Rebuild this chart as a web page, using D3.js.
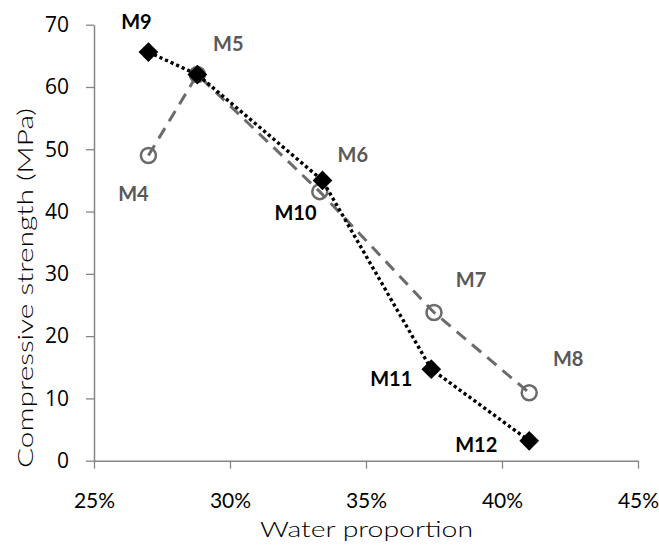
<!DOCTYPE html>
<html><head><meta charset="utf-8">
<script src="https://cdn.jsdelivr.net/npm/d3@7"></script>
<style>body{margin:0;background:#fff;} svg{display:block;}</style>
</head><body>
<svg id="chart" width="659" height="545"></svg>
<script>
// Series A (open circles, dashed grey)
const labelsA = ["M4","M5","M6","M7","M8"];
const waterA  = [0.270, 0.288, 0.333, 0.375, 0.410];
const strengthA = [49.0, 62.0, 43.2, 23.8, 10.9];
// Series B (filled diamonds, dotted black)
const labelsB = ["M9","","M10","M11","M12"];
const waterB  = [0.270, 0.288, 0.334, 0.374, 0.410];
const strengthB = [65.6, 62.0, 45.0, 14.7, 3.2];
const xTicks = [0.25, 0.30, 0.35, 0.40, 0.45];
const yTicks = [0, 10, 20, 30, 40, 50, 60, 70];

// label offsets (style, px)
const offA = [[-15,45],[31,-24],[33,-30],[37,-25],[39,-27]];
const offB = [[-12,-23],[0,0],[-27,40],[-40,17],[-53,11]];

const svg = d3.select("#chart");
const margin = {left:94, right:21, top:24.7, bottom:84.3};
const W = 659, H = 545;
const x = d3.scaleLinear().domain([0.25,0.45]).range([margin.left, W-margin.right]);
const y = d3.scaleLinear().domain([0,70]).range([H-margin.bottom, margin.top]);
const axisColor = "#868686";

// X axis
const xg = svg.append("g").attr("transform",`translate(0,${y(0)})`)
  .call(d3.axisBottom(x).tickValues(xTicks).tickFormat(d3.format(".0%")).tickSizeInner(8).tickSizeOuter(0).tickPadding(24));
xg.select(".domain").attr("stroke",axisColor).attr("stroke-width",1.5);
xg.selectAll(".tick line").attr("stroke",axisColor).attr("stroke-width",1.3);
xg.selectAll(".tick text").attr("font-family","Lato, sans-serif").attr("font-size",21).attr("fill","#000");

// Y axis
const yg = svg.append("g").attr("transform",`translate(${x(0.25)},0)`)
  .call(d3.axisLeft(y).tickValues(yTicks).tickSizeInner(8).tickSizeOuter(0).tickPadding(17));
yg.select(".domain").attr("stroke",axisColor).attr("stroke-width",1.5);
yg.selectAll(".tick line").attr("stroke",axisColor).attr("stroke-width",1.3);
yg.selectAll(".tick text").attr("font-family","'Open Sans', sans-serif").attr("font-size",21).attr("fill","#000");

// Axis titles
svg.append("text").attr("x",(260+473)/2).attr("y",537).attr("text-anchor","middle")
  .attr("font-family","Lato, sans-serif").attr("font-weight",300).attr("font-size",22).attr("fill","#000")
  .attr("textLength",213).attr("lengthAdjust","spacingAndGlyphs").text("Water proportion");
svg.append("text").attr("transform","translate(32.5,288) rotate(-90)").attr("text-anchor","middle")
  .attr("font-family","Lato, sans-serif").attr("font-weight",300).attr("font-size",22).attr("fill","#000")
  .attr("textLength",360).attr("lengthAdjust","spacingAndGlyphs").text("Compressive strength (MPa)");

const dataA = labelsA.map((l,i)=>({l, x:waterA[i], y:strengthA[i], o:offA[i]}));
const dataB = labelsB.map((l,i)=>({l, x:waterB[i], y:strengthB[i], o:offB[i]}));
const line = d3.line().x(d=>x(d.x)).y(d=>y(d.y));

// Series A
svg.append("path").datum(dataA).attr("d",line).attr("fill","none")
  .attr("stroke","#6b6b6b").attr("stroke-width",3).attr("stroke-dasharray","12,8");
svg.selectAll("circle.a").data(dataA).enter().append("circle").attr("class","a")
  .attr("cx",d=>x(d.x)).attr("cy",d=>y(d.y)).attr("r",7.5)
  .attr("fill","none").attr("stroke","#6b6b6b").attr("stroke-width",2.5);

// Series B
svg.append("path").datum(dataB).attr("d",line).attr("fill","none")
  .attr("stroke","#000").attr("stroke-width",3.4).attr("stroke-dasharray","3.2,2.9");
const sym = d3.symbol().type(d3.symbolSquare).size(195);
svg.selectAll("path.b").data(dataB).enter().append("path").attr("class","b")
  .attr("d",sym).attr("fill","#000")
  .attr("transform",d=>`translate(${x(d.x)},${y(d.y)}) rotate(45)`);

// Labels
svg.selectAll("text.la").data(dataA).enter().append("text").attr("class","la")
  .attr("x",d=>x(d.x)+d.o[0]).attr("y",d=>y(d.y)+d.o[1]).attr("text-anchor","middle")
  .attr("font-family","Lato, sans-serif").attr("font-weight","bold").attr("font-size",20)
  .attr("fill","#595959").text(d=>d.l);
svg.selectAll("text.lb").data(dataB.filter(d=>d.l)).enter().append("text").attr("class","lb")
  .attr("x",d=>x(d.x)+d.o[0]).attr("y",d=>y(d.y)+d.o[1]).attr("text-anchor","middle")
  .attr("font-family","Lato, sans-serif").attr("font-weight","bold").attr("font-size",20)
  .attr("fill","#000").text(d=>d.l);
</script>
</body></html>
